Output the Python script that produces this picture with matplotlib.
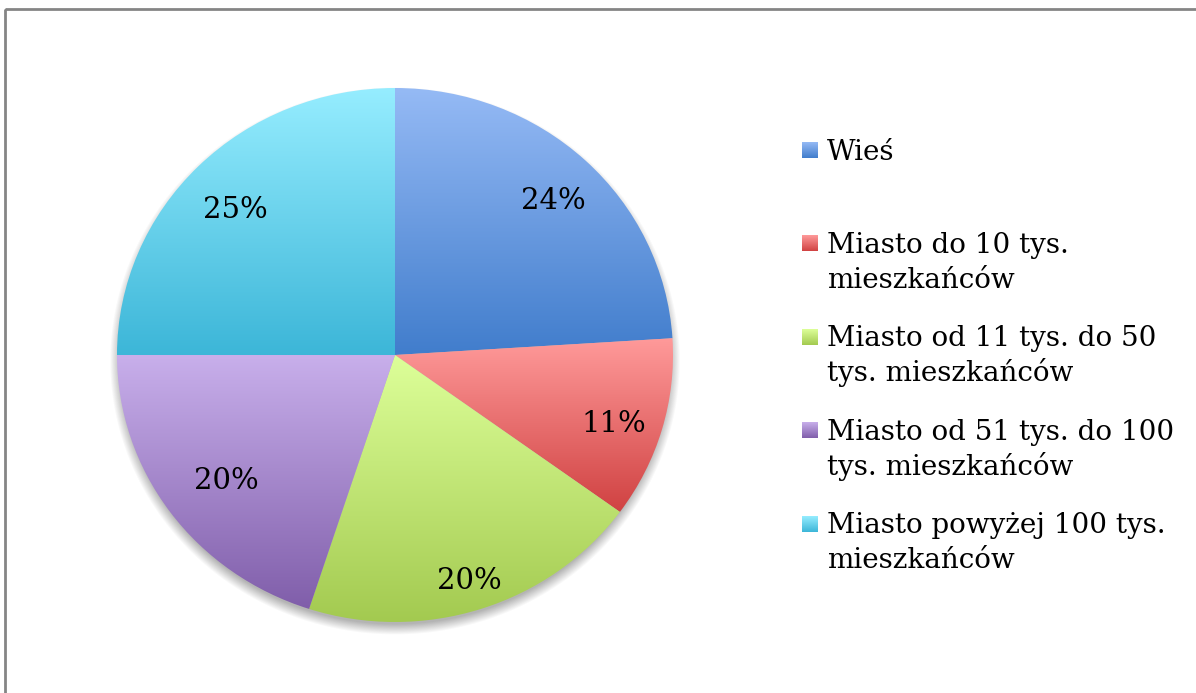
import numpy as np
import matplotlib
matplotlib.use("Agg")
import matplotlib.pyplot as plt
from matplotlib.colors import LinearSegmentedColormap
from matplotlib.patches import Rectangle

# dane: miejsce zamieszkania respondentów
kategorie = ["Wieś",
             "Miasto do 10 tys.\nmieszkańców",
             "Miasto od 11 tys. do 50\ntys. mieszkańców",
             "Miasto od 51 tys. do 100\ntys. mieszkańców",
             "Miasto powyżej 100 tys.\nmieszkańców"]
udzialy = [24, 11, 20, 20, 25]

# kolory gradientu (góra / dół wycinka)
kolory_gora = ["#95BAF5", "#FF9A9A", "#DDFF99", "#C8AFEB", "#96EDFF"]
kolory_dol = ["#417DCC", "#D04242", "#A3CA50", "#805EAA", "#3CB6D8"]

plt.rcParams['font.family'] = ['DejaVu Serif']

W, H = 1196, 693
fig = plt.figure(figsize=(W / 100, H / 100), dpi=100)

# tło w pikselach: ramka, cień, legenda
tlo = fig.add_axes([0, 0, 1, 1])
tlo.set_xlim(0, W)
tlo.set_ylim(H, 0)
tlo.axis('off')

cx, cy, rx, ry = 395, 355, 278, 267

# miękki cień pod kołem (przesunięty w dół)
yy, xx = np.mgrid[0:H, 0:W] + 0.5
r = np.sqrt(((xx - cx) / rx) ** 2 + ((yy - cy - 6) / ry) ** 2)
d = (r - 1) * 272
cien = np.zeros((H, W, 4))
cien[..., :3] = 0.35
cien[..., 3] = np.clip(1 - (d + 4) / 11, 0, 1) * 0.45
tlo.imshow(cien, extent=(0, W, H, 0), interpolation='bilinear', aspect='auto', zorder=0)

# ramka wykresu
tlo.add_patch(Rectangle((5, 9), W, H, fill=False, edgecolor='#858585', linewidth=2, zorder=3))

# wykres kołowy
ax = fig.add_axes([(cx - rx) / W, 1 - (cy + ry) / H, 2 * rx / W, 2 * ry / H])
wedges, teksty, procenty = ax.pie(udzialy, startangle=90, counterclock=False, radius=1,
                                  autopct=lambda p: f"{p:.0f}%", pctdistance=0.8,
                                  textprops=dict(fontsize=21, color='black'))

grad = np.linspace(0, 1, 256).reshape(-1, 1)
for w, g, dl in zip(wedges, kolory_gora, kolory_dol):
    w.set_facecolor('none')
    w.set_edgecolor('none')
    bb = w.get_path().get_extents()
    cmap = LinearSegmentedColormap.from_list('', [dl, g])
    im = ax.imshow(grad, cmap=cmap, extent=(bb.x0, bb.x1, bb.y0, bb.y1),
                   origin='lower', aspect='auto', interpolation='bilinear', zorder=1)
    im.set_clip_path(w)

# położenie etykiet procentowych
odl = [0.83, 0.82, 0.86, 0.75, 0.81]
for t, w, rr in zip(procenty, wedges, odl):
    kat = np.deg2rad((w.theta1 + w.theta2) / 2)
    t.set_position((rr * np.cos(kat), rr * np.sin(kat) - 0.03))
    t.set_zorder(5)

ax.set_aspect('auto')
ax.set_xlim(-1, 1)
ax.set_ylim(-1, 1)
ax.axis('off')

# legenda
for i, (nazwa, g, dl) in enumerate(zip(kategorie, kolory_gora, kolory_dol)):
    yc = 150 + i * 93.4
    cm = LinearSegmentedColormap.from_list('', [g, dl])
    tlo.imshow(grad, cmap=cm, extent=(802, 818, yc + 8, yc - 8), origin='upper',
               aspect='auto', interpolation='bilinear', zorder=2)
    for j, linia in enumerate(nazwa.split("\n")):
        tlo.text(827, yc + 9.5 + j * 35, linia, fontsize=20, va='baseline', ha='left', zorder=4)

tlo.set_xlim(0, W)
tlo.set_ylim(H, 0)

fig.savefig("out.png", dpi=100)
